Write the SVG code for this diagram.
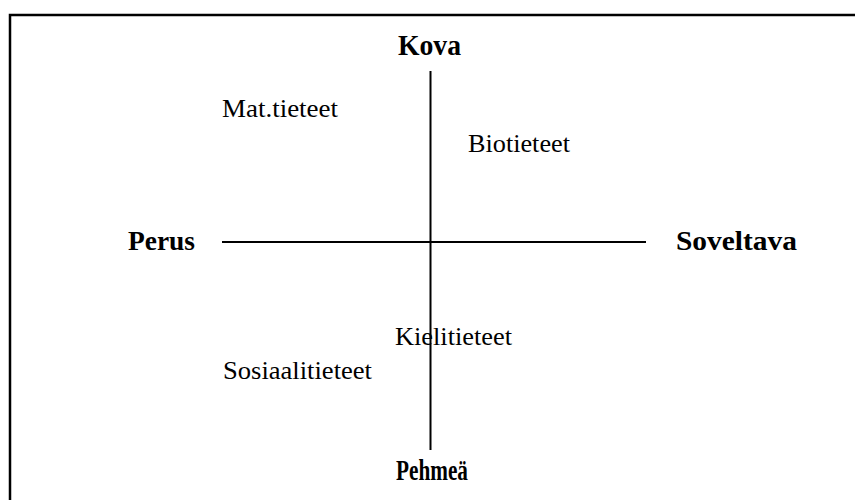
<svg xmlns="http://www.w3.org/2000/svg" width="855" height="500" viewBox="0 0 855 500">
<style>
.ax{font-family:"Liberation Serif","Times New Roman",serif;font-weight:bold;font-size:27px;fill:#000}
.tall{font-size:30px}
.lb{font-family:"Liberation Serif","Times New Roman",serif;font-size:25px;fill:#000}
.ln{stroke:#000;stroke-width:2;fill:none}
</style>
<rect width="855" height="500" fill="#fff"/>
<path d="M10,500 V15 H855" stroke="#000" stroke-width="2.5" fill="none"/>
<g id="connectors">
<line class="ln" x1="430.5" y1="71" x2="430.5" y2="450"/>
<line class="ln" x1="222" y1="242" x2="646" y2="242"/>
</g>
<g id="kova"><text class="ax tall" x="398" y="55" textLength="63" lengthAdjust="spacingAndGlyphs">Kova</text></g>
<g id="perus"><text class="ax" x="128" y="250" textLength="67" lengthAdjust="spacingAndGlyphs">Perus</text></g>
<g id="soveltava"><text class="ax" x="676" y="250" textLength="121" lengthAdjust="spacingAndGlyphs">Soveltava</text></g>
<g id="pehmea"><text class="ax tall" x="396" y="480" textLength="72" lengthAdjust="spacingAndGlyphs">Pehmeä</text></g>
<g id="mat"><text class="lb" x="222" y="117" textLength="116" lengthAdjust="spacingAndGlyphs">Mat.tieteet</text></g>
<g id="bio"><text class="lb" x="468" y="152" textLength="102" lengthAdjust="spacingAndGlyphs">Biotieteet</text></g>
<g id="kieli"><text class="lb" x="395" y="345" textLength="117" lengthAdjust="spacingAndGlyphs">Kielitieteet</text></g>
<g id="sosiaali"><text class="lb" x="223" y="379" textLength="149" lengthAdjust="spacingAndGlyphs">Sosiaalitieteet</text></g>
</svg>
